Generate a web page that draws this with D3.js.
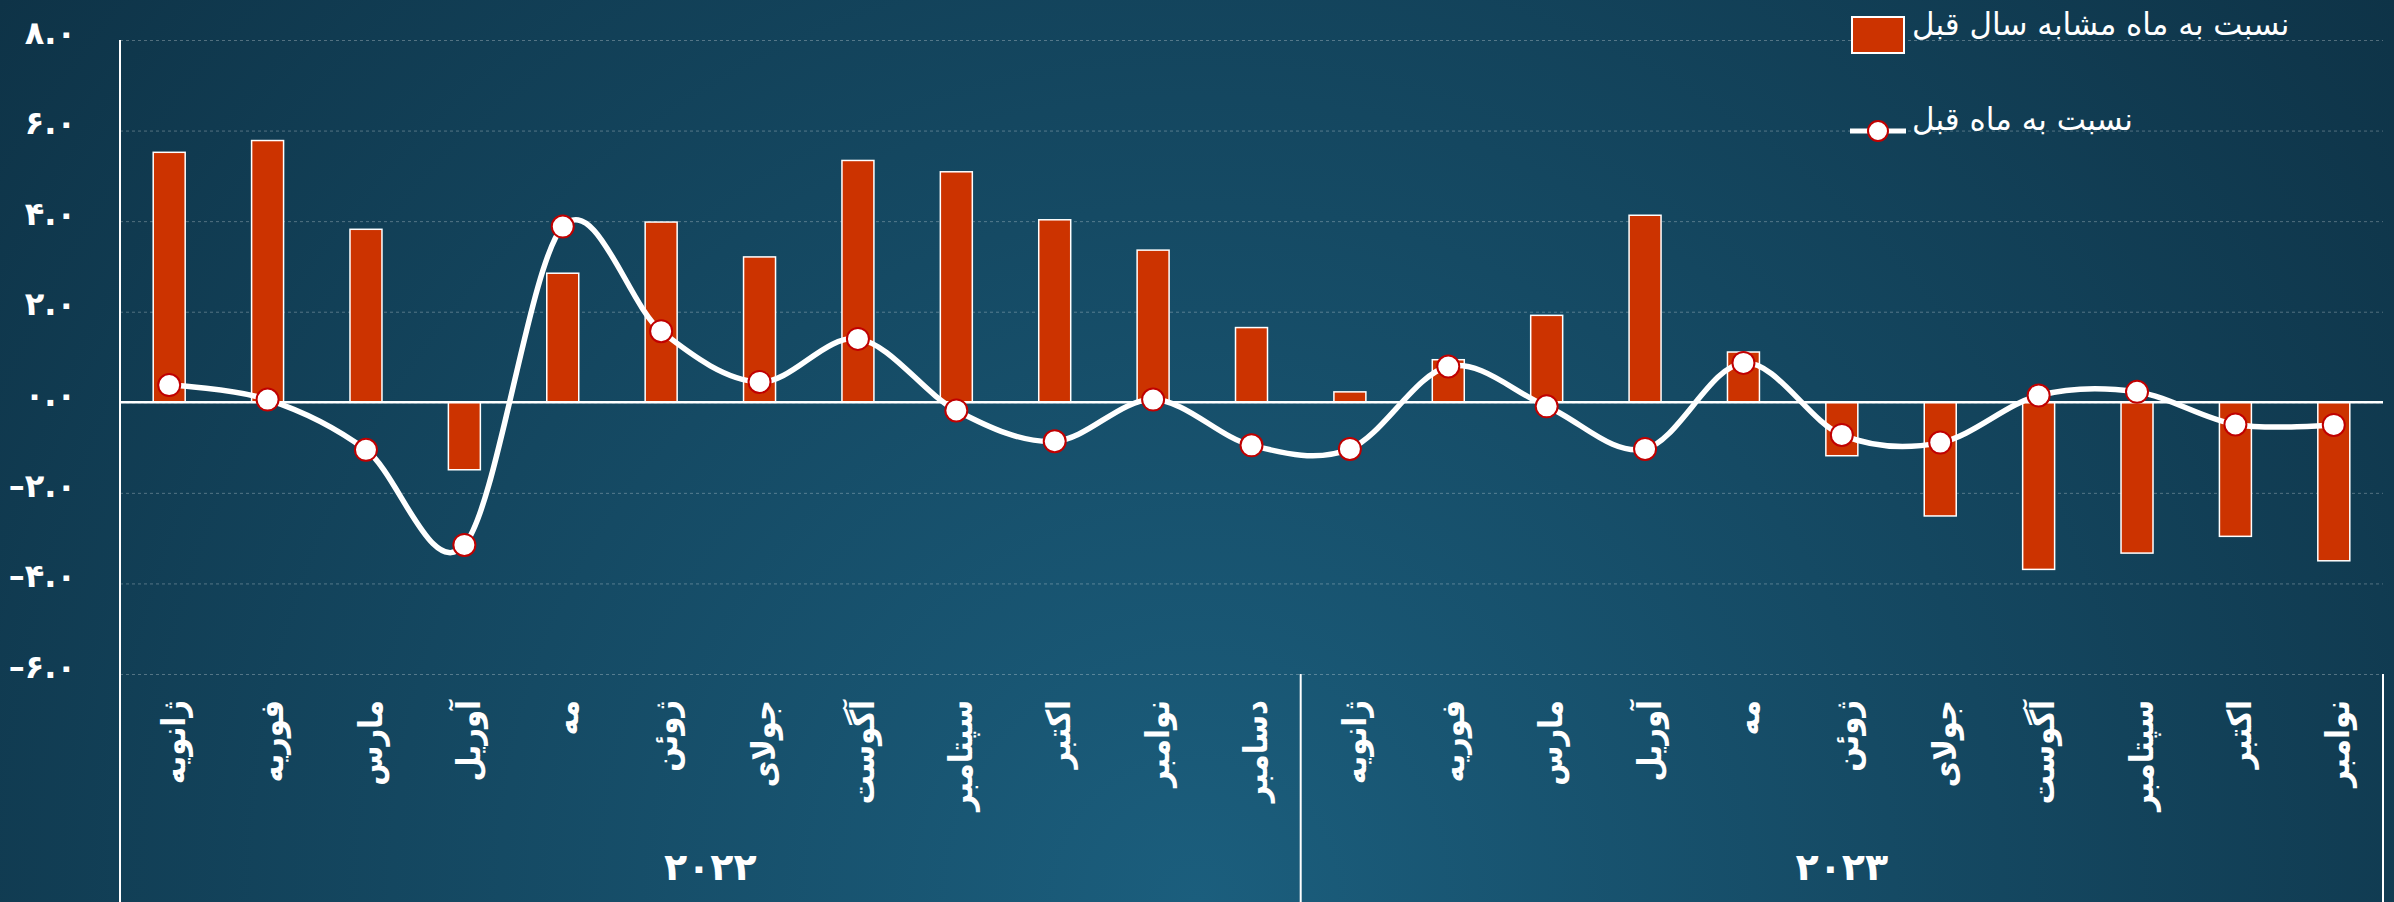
<!DOCTYPE html>
<html>
<head>
<meta charset="utf-8">
<script src="https://cdn.jsdelivr.net/npm/d3@7"></script>
<style>
  html, body { margin: 0; padding: 0; background: #0f3549; overflow: hidden; }
</style>
</head>
<body>
<svg id="chart" width="2394" height="902"></svg>
<script>
// months, Jan 2022 .. Nov 2023
const months = ["ژانویه", "فوریه", "مارس", "آوریل", "مه", "ژوئن", "جولای", "آگوست", "سپتامبر", "اکتبر", "نوامبر", "دسامبر",
                "ژانویه", "فوریه", "مارس", "آوریل", "مه", "ژوئن", "جولای", "آگوست", "سپتامبر", "اکتبر", "نوامبر"];
const years = ["۲۰۲۲", "۲۰۲۳"];
const yearCounts = [12, 11];

// bars: vs same month last year
const yoy = [5.52, 5.78, 3.82, -1.49, 2.85, 3.98, 3.21, 5.34, 5.09, 4.03, 3.36, 1.65,
             0.23, 0.94, 1.92, 4.13, 1.11, -1.18, -2.51, -3.69, -3.33, -2.96, -3.50];
// line: vs previous month
const mom = [0.38, 0.06, -1.05, -3.15, 3.88, 1.57, 0.45, 1.40, -0.18, -0.86, 0.06, -0.95,
             -1.03, 0.79, -0.09, -1.03, 0.87, -0.72, -0.89, 0.15, 0.23, -0.49, -0.50];

const yTicks = [-6, -4, -2, 0, 2, 4, 6, 8];
const legendLabels = ["نسبت به ماه مشابه سال قبل", "نسبت به ماه قبل"];

const W = 2394, H = 902;
const plotL = 120, plotR = 2383, plotT = 40, plotB = 674;
const font = "'DejaVu Sans', sans-serif";

const svg = d3.select("#chart");

// background
const grad = svg.append("defs").append("radialGradient")
    .attr("id", "bg").attr("gradientUnits", "userSpaceOnUse")
    .attr("cx", W / 2).attr("cy", H).attr("r", 1500);
grad.append("stop").attr("offset", 0).attr("stop-color", "#1b5e7d");
grad.append("stop").attr("offset", 1).attr("stop-color", "#0e3347");
svg.append("rect").attr("width", W).attr("height", H).attr("fill", "url(#bg)");

const x = d3.scaleBand().domain(d3.range(months.length)).range([plotL, plotR]);
const y = d3.scaleLinear().domain([-6, 8]).range([plotB, plotT]);
const bw = x.bandwidth();
const barW = bw * 0.325;
const cx = i => x(i) + bw / 2;

const fa = s => String(s).replace(/\d/g, d => "۰۱۲۳۴۵۶۷۸۹"[d]);
const fmt = v => (v < 0 ? "–" : "") + fa(Math.abs(v).toFixed(1));

// grid + tick labels
const yAxis = svg.append("g")
    .attr("transform", `translate(${plotL},0)`)
    .call(d3.axisLeft(y).tickValues(yTicks).tickSize(-(plotR - plotL)).tickPadding(44).tickFormat(fmt));
yAxis.select(".domain").remove();
yAxis.selectAll(".tick line")
    .attr("stroke", "rgba(255,255,255,0.28)")
    .attr("stroke-dasharray", "3,3");
yAxis.selectAll(".tick text")
    .attr("fill", "#fff")
    .attr("font-family", font)
    .attr("font-weight", "bold")
    .attr("font-size", 32)
    .attr("dy", "0.1em");

// bars
svg.append("g").selectAll("rect")
  .data(yoy)
  .join("rect")
    .attr("x", (d, i) => cx(i) - barW / 2)
    .attr("y", d => y(Math.max(0, d)))
    .attr("width", barW)
    .attr("height", d => Math.abs(y(d) - y(0)))
    .attr("fill", "#cc3300")
    .attr("stroke", "#fff")
    .attr("stroke-width", 1.5);

// zero line and axes
svg.append("line")
    .attr("x1", plotL).attr("x2", plotR).attr("y1", y(0)).attr("y2", y(0))
    .attr("stroke", "#fff").attr("stroke-width", 2.5);
svg.append("line")
    .attr("x1", plotL).attr("x2", plotL).attr("y1", plotT).attr("y2", H)
    .attr("stroke", "#fff").attr("stroke-width", 2);

// smooth line
const line = d3.line()
    .x((d, i) => cx(i))
    .y(d => y(d))
    .curve(d3.curveCatmullRom.alpha(0));
svg.append("path")
    .datum(mom)
    .attr("d", line)
    .attr("fill", "none")
    .attr("stroke", "#fff")
    .attr("stroke-width", 5.5);
svg.append("g").selectAll("circle")
  .data(mom)
  .join("circle")
    .attr("cx", (d, i) => cx(i))
    .attr("cy", d => y(d))
    .attr("r", 11)
    .attr("fill", "#fff")
    .attr("stroke", "#c00000")
    .attr("stroke-width", 2);

// category axis: month names (vertical) and years
svg.append("g").selectAll("text")
  .data(months)
  .join("text")
    .attr("transform", (d, i) => `translate(${cx(i) + 4},700) rotate(-90) scale(0.88,1)`)
    .attr("text-anchor", "end")
    .attr("dominant-baseline", "central")
    .attr("fill", "#fff")
    .attr("font-family", font)
    .attr("font-weight", "bold")
    .attr("font-size", 33)
    .text(d => d);

let start = 0;
const bounds = [];
years.forEach((yr, k) => {
  const end = start + yearCounts[k];
  const x0 = x(start), x1 = end < months.length ? x(end) : plotR;
  bounds.push(x1);
  svg.append("text")
      .attr("x", (x0 + x1) / 2)
      .attr("y", 880)
      .attr("text-anchor", "middle")
      .attr("fill", "#fff")
      .attr("font-family", font)
      .attr("font-weight", "bold")
      .attr("font-size", 38)
      .text(yr);
  start = end;
});
svg.append("g").selectAll("line")
  .data(bounds)
  .join("line")
    .attr("x1", d => d).attr("x2", d => d)
    .attr("y1", plotB).attr("y2", H)
    .attr("stroke", "#fff").attr("stroke-width", 2);

// legend
const lg = svg.append("g");
lg.append("rect")
    .attr("x", 1852).attr("y", 17).attr("width", 52).attr("height", 36)
    .attr("fill", "#cc3300").attr("stroke", "#fff").attr("stroke-width", 2);
lg.append("line")
    .attr("x1", 1850).attr("x2", 1906).attr("y1", 131).attr("y2", 131)
    .attr("stroke", "#fff").attr("stroke-width", 5);
lg.append("circle")
    .attr("cx", 1878).attr("cy", 131).attr("r", 10)
    .attr("fill", "#fff").attr("stroke", "#c00000").attr("stroke-width", 2);
lg.selectAll("text")
  .data(legendLabels)
  .join("text")
    .attr("x", 1912)
    .attr("y", (d, i) => i === 0 ? 35 : 130)
    .attr("fill", "#fff")
    .attr("font-family", font)
    .attr("font-size", 31)
    .text(d => d);
</script>
</body>
</html>
